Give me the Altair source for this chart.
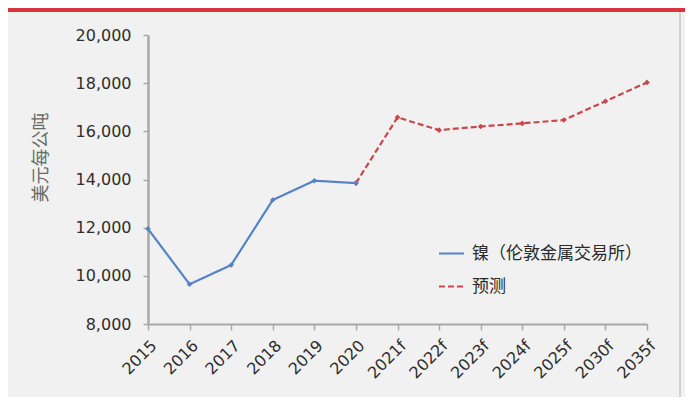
import altair as alt
import pandas as pd

categories = ["2015", "2016", "2017", "2018", "2019", "2020",
              "2021f", "2022f", "2023f", "2024f", "2025f", "2030f", "2035f"]

actual_years = ["2015", "2016", "2017", "2018", "2019", "2020"]
actual_values = [11950, 9650, 10450, 13150, 13950, 13850]

forecast_years = ["2020", "2021f", "2022f", "2023f", "2024f", "2025f", "2030f", "2035f"]
forecast_values = [13850, 16580, 16050, 16200, 16330, 16470, 17250, 18030]

series_names = ["镍（伦敦金属交易所）", "预测"]
series_colors = ["#5583c6", "#c9474d"]
y_ticks = [8000, 10000, 12000, 14000, 16000, 18000, 20000]

df_actual = pd.DataFrame({"year": actual_years, "value": actual_values, "series": series_names[0]})
df_fc = pd.DataFrame({"year": forecast_years, "value": forecast_values, "series": series_names[1]})

W, H = 499, 289
PAD_L, PAD_T = 140, 27
TOTAL_W, TOTAL_H = 677, 389

x_enc = alt.X("year:O", sort=categories,
              scale=alt.Scale(type="point", padding=0, domain=categories),
              axis=alt.Axis(title=None, labelAngle=-45, labelFontSize=16, labelFont="DejaVu Sans",
                            labelColor="#2e2e2e", labelPadding=7, tickSize=6, domainColor="#a8a8a8",
                            tickColor="#a8a8a8", domainWidth=2, tickWidth=1.5, grid=False))
y_enc = alt.Y("value:Q",
              scale=alt.Scale(domain=[8000, 20000], nice=False, zero=False),
              axis=alt.Axis(title="美元每公吨", values=y_ticks, format=",.0f", labelFontSize=16,
                            labelFont="DejaVu Sans", labelColor="#2e2e2e", labelPadding=12,
                            tickSize=5, domainColor="#a8a8a8", tickColor="#a8a8a8",
                            domainWidth=2.5, tickWidth=1.5, grid=False,
                            titleFont="Noto Sans CJK SC", titleFontSize=18, titleFontWeight="normal",
                            titleColor="#6a6a6a", titleAngle=-90, titleBaseline="middle",
                            titleAlign="center", titleX=-107, titleY=122))
color_enc = alt.Color("series:N", scale=alt.Scale(domain=series_names, range=series_colors),
                      legend=alt.Legend(title=None, orient="none", legendX=290, legendY=205,
                                        symbolType="stroke", symbolSize=625, symbolStrokeWidth=2,
                                        labelFont="Noto Sans CJK SC", labelFontSize=17, labelLimit=400,
                                        labelColor="#2a2a2a", rowPadding=11, labelOffset=7))
dash_enc = alt.StrokeDash("series:N", scale=alt.Scale(domain=series_names, range=[[1, 0], [6, 3]]),
                          legend=None)

def series_layers(df):
    base = alt.Chart(df)
    line = base.mark_line(strokeWidth=2.2).encode(x=x_enc, y=y_enc, color=color_enc, strokeDash=dash_enc)
    pts = base.mark_point(shape="diamond", filled=True, size=32, opacity=1).encode(
        x=x_enc, y=y_enc, color=alt.Color("series:N", scale=alt.Scale(domain=series_names, range=series_colors), legend=None))
    return [line, pts]

deco = pd.DataFrame({"k": [1]})
red_bar = alt.Chart(deco).mark_rect(color="#da3440").encode(
    x=alt.value(-PAD_L), x2=alt.value(TOTAL_W - PAD_L), y=alt.value(-PAD_T), y2=alt.value(-PAD_T + 4))
right_rule = alt.Chart(deco).mark_rule(color="#c8c8c8", strokeWidth=1.5).encode(
    x=alt.value(532), y=alt.value(-PAD_T + 4), y2=alt.value(TOTAL_H - PAD_T))

chart = alt.layer(red_bar, right_rule, *series_layers(df_fc), *series_layers(df_actual)).properties(
    width=W, height=H,
    autosize=alt.AutoSizeParams(type="none"),
    padding={"left": PAD_L, "top": PAD_T, "right": TOTAL_W - PAD_L - W, "bottom": TOTAL_H - PAD_T - H},
    background="#f1f1f1",
).configure_view(stroke=None)

chart.save("out.html", embed_options={"renderer": "svg", "actions": False})
